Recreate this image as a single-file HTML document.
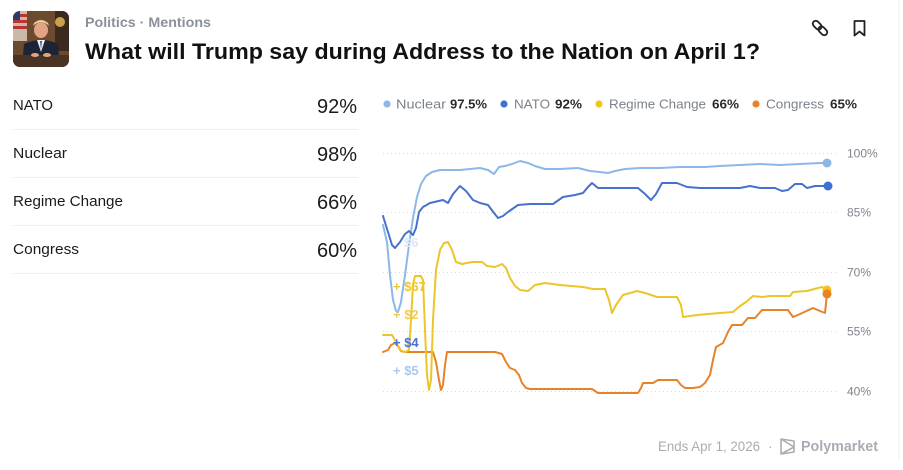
<!DOCTYPE html>
<html><head><meta charset="utf-8"><style>
html,body{margin:0;padding:0;background:#fff;}
svg{display:block;}
text{font-family:"Liberation Sans",sans-serif;}
</style></head><body>
<svg width="903" height="470" viewBox="0 0 903 470" xmlns="http://www.w3.org/2000/svg">
<rect width="903" height="470" fill="#fff"/>
<line x1="899" y1="0" x2="899" y2="460" stroke="#eef0f3" stroke-width="1"/>
<!-- thumbnail -->
<defs><clipPath id="th"><rect x="13" y="11" width="56" height="56" rx="7"/></clipPath></defs>
<g clip-path="url(#th)">
<rect x="13" y="11" width="56" height="56" fill="#6b4a2e"/>
<rect x="13" y="11" width="14" height="30" fill="#c9b9a8"/>
<rect x="13" y="14" width="14" height="3" fill="#b33"/><rect x="13" y="20" width="14" height="3" fill="#b33"/><rect x="13" y="26" width="14" height="3" fill="#b33"/>
<rect x="13" y="11" width="7" height="9" fill="#2b3a6b"/>
<rect x="55" y="11" width="14" height="40" fill="#3a2a20"/>
<circle cx="60" cy="22" r="5" fill="#c9a24b"/>
<ellipse cx="41" cy="30" rx="7" ry="8" fill="#e1a585"/>
<path d="M33 26 Q41 18 49 26 L48 23 Q41 17 34 23Z" fill="#e8d49a"/>
<path d="M22 67 L24 44 Q41 36 58 44 L60 67Z" fill="#1d2433"/>
<path d="M37 40 L41 52 L45 40Z" fill="#f2f2f2"/>
<path d="M40 41 L41 50 L42 41Z" fill="#3a5aa0"/>
<rect x="13" y="55" width="56" height="12" fill="#4a3322"/>
<ellipse cx="35" cy="55" rx="4" ry="2" fill="#e1a585"/><ellipse cx="47" cy="55" rx="4" ry="2" fill="#e1a585"/>
</g>
<!-- header -->
<text x="85" y="27" font-size="14" font-weight="bold" fill="#8b919a" textLength="126" lengthAdjust="spacingAndGlyphs">Politics · Mentions</text>
<text x="85" y="59" font-size="22" font-weight="bold" fill="#111" textLength="675" lengthAdjust="spacingAndGlyphs">What will Trump say during Address to the Nation on April 1?</text>
<!-- link icon -->
<g fill="none" stroke="#222" stroke-width="1.8" transform="rotate(45 820 28)">
<rect x="811" y="25" width="10" height="6" rx="3"/>
<rect x="819" y="25" width="10" height="6" rx="3"/>
</g>
<!-- bookmark -->
<path d="M854.5 21 h10 v14.5 l-5 -4 l-5 4 Z" fill="none" stroke="#222" stroke-width="1.8" stroke-linejoin="round"/>
<!-- left list -->
<g font-size="15" fill="#1b1b1b">
<text x="13" y="110" textLength="40" lengthAdjust="spacingAndGlyphs">NATO</text>
<text x="13" y="158" textLength="54" lengthAdjust="spacingAndGlyphs">Nuclear</text>
<text x="13" y="206" textLength="110" lengthAdjust="spacingAndGlyphs">Regime Change</text>
<text x="13" y="254" textLength="66" lengthAdjust="spacingAndGlyphs">Congress</text>
</g>
<g font-size="20" fill="#1b1b1b" text-anchor="end">
<text x="357" y="113">92%</text>
<text x="357" y="161">98%</text>
<text x="357" y="209">66%</text>
<text x="357" y="257">60%</text>
</g>
<g stroke="#eeeff1" stroke-width="1">
<line x1="13" y1="129.5" x2="358" y2="129.5"/>
<line x1="13" y1="177.5" x2="358" y2="177.5"/>
<line x1="13" y1="225.5" x2="358" y2="225.5"/>
<line x1="13" y1="273.5" x2="358" y2="273.5"/>
</g>
<!-- legend -->
<g font-size="13">
<circle cx="387" cy="104" r="3.6" fill="#8cb8e8"/>
<text x="396" y="108.5" fill="#7c828a" textLength="50" lengthAdjust="spacingAndGlyphs">Nuclear</text>
<text x="450" y="108.5" fill="#2a2a2a" font-weight="bold" textLength="37" lengthAdjust="spacingAndGlyphs">97.5%</text>
<circle cx="504" cy="104" r="3.6" fill="#3d6fd6"/>
<text x="514" y="108.5" fill="#7c828a" textLength="36" lengthAdjust="spacingAndGlyphs">NATO</text>
<text x="555" y="108.5" fill="#2a2a2a" font-weight="bold" textLength="27" lengthAdjust="spacingAndGlyphs">92%</text>
<circle cx="599" cy="104" r="3.6" fill="#f2c518"/>
<text x="609" y="108.5" fill="#7c828a" textLength="97" lengthAdjust="spacingAndGlyphs">Regime Change</text>
<text x="712" y="108.5" fill="#2a2a2a" font-weight="bold" textLength="27" lengthAdjust="spacingAndGlyphs">66%</text>
<circle cx="756" cy="104" r="3.6" fill="#e8822a"/>
<text x="766" y="108.5" fill="#7c828a" textLength="58" lengthAdjust="spacingAndGlyphs">Congress</text>
<text x="830" y="108.5" fill="#2a2a2a" font-weight="bold" textLength="27" lengthAdjust="spacingAndGlyphs">65%</text>
</g>
<!-- grid -->
<g stroke="#d6d9de" stroke-width="1" stroke-dasharray="1 3">
<line x1="383" y1="153.5" x2="838" y2="153.5"/>
<line x1="383" y1="212.5" x2="838" y2="212.5"/>
<line x1="383" y1="272.5" x2="838" y2="272.5"/>
<line x1="383" y1="331.5" x2="838" y2="331.5"/>
<line x1="383" y1="391.5" x2="838" y2="391.5"/>
</g>
<g font-size="12" fill="#80858c">
<text x="847" y="157.5">100%</text>
<text x="847" y="216.5">85%</text>
<text x="847" y="276.5">70%</text>
<text x="847" y="335.5">55%</text>
<text x="847" y="395.5">40%</text>
</g>
<!-- series -->
<g fill="none" stroke-width="2" stroke-linejoin="round" stroke-linecap="round">
<polyline stroke="#e8822a" points="383,352 388,350 391,345 395,343 398,346 401,351 405,352 433,352 436,362 439,380 441,390 443,385 445,365 447,352 495,352 502,354 506,362 510,368 515,370 519,375 522,383 526,388 530,389 555,389 592,389 598,393 638,393 641,388 643,383 653,383 658,380 677,380 681,385 685,388 693,388 700,387 705,383 710,375 713,360 716,347 723,343 728,332 732,325 742,325 748,318 755,318 762,310 788,310 793,317 800,314 813,308 820,311 825,313 827,294"/>
<polyline stroke="#ecc52a" points="383,335 392,335 396,342 400,350 405,352 409,350 411,320 413,285 415,276 421,276 423,280 425,330 427,375 429,390 431,380 433,320 436,270 440,250 444,243 448,242 452,250 456,262 462,264 472,262 482,262 487,266 495,267 502,264 506,268 510,278 515,286 520,290 528,291 535,285 545,283 560,285 583,287 593,289 605,289 609,300 612,313 616,305 623,295 637,291 645,293 657,297 677,297 681,305 683,317 697,315 720,313 733,312 740,306 746,302 753,296 762,297 770,296 790,296 793,292 807,291 818,288 822,287 827,290"/>
<polyline stroke="#8cb8e8" points="383,225 387,242 390,275 393,300 396,311 398,312 401,302 405,275 409,245 413,218 417,197 421,184 426,176 432,172 440,170 450,170 460,170 470,169 480,168 488,170 494,174 499,167 505,166 512,164 520,161 528,163 535,166 545,169 560,169 578,168 590,171 600,172 608,173 615,171 625,169 640,168 660,168 680,167 705,167 720,166 740,165 760,164 780,165 800,164 820,163 827,163"/>
<polyline stroke="#4671cc" points="383,216 388,232 392,245 395,248 400,242 405,234 409,231 413,235 416,228 419,212 423,207 430,203 443,200 448,203 453,194 460,186 466,191 473,200 480,203 488,205 494,213 498,218 503,216 508,212 518,205 530,204 553,204 563,197 575,195 583,193 588,187 592,183 598,188 610,188 638,188 645,194 651,200 656,194 662,183 677,183 687,187 700,188 720,188 740,188 750,186 760,188 775,188 782,191 788,190 795,184 802,184 807,188 815,186 828,186"/>
</g>
<circle cx="827" cy="163" r="4.5" fill="#8cb8e8"/>
<circle cx="828" cy="186" r="4.5" fill="#3d6fd6"/>
<circle cx="827" cy="290" r="4.5" fill="#f2c518"/>
<circle cx="827" cy="294" r="4.5" fill="#e8822a"/>
<!-- trade labels -->
<g font-size="13" font-weight="bold">
<text x="404" y="247" fill="#dbe7f6">$6</text>
<text x="393" y="291" fill="#f0c62a">+ $67</text>
<text x="393" y="319" fill="#f0cd55">+ $2</text>
<text x="393" y="347" fill="#4a72d4">+ $4</text>
<text x="393" y="375" fill="#a8c8ee">+ $5</text>
</g>
<!-- footer -->
<text x="658" y="451" font-size="14" fill="#a9adb3" textLength="102" lengthAdjust="spacingAndGlyphs">Ends Apr 1, 2026</text>
<text x="768" y="451" font-size="14" fill="#a9adb3">·</text>
<path d="M781 439 L794 441 L794 452 L781 454 Z M781 439 L794 447 L781 454" fill="none" stroke="#a9adb3" stroke-width="1.6" stroke-linejoin="round"/>
<text x="801" y="451" font-size="15" font-weight="bold" fill="#a9adb3" textLength="77" lengthAdjust="spacingAndGlyphs">Polymarket</text>
</svg>
</body></html>
